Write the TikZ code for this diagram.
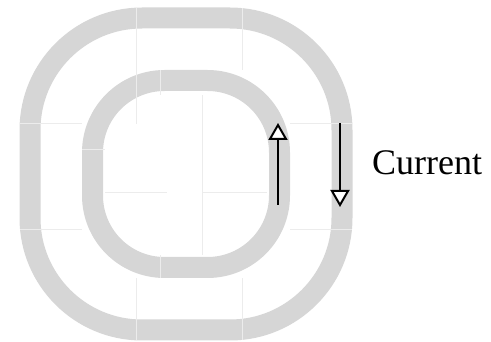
\documentclass[tikz,border=0pt]{standalone}
\usepackage{fontspec}
\setmainfont{Liberation Serif}
\usetikzlibrary{arrows.meta}
\definecolor{grisAnillo}{HTML}{D6D6D6}
\definecolor{grisJunta}{HTML}{ECECEC}

\begin{document}
\begin{tikzpicture}[x=1pt,y=-1pt,>={Triangle[length=17pt,width=19pt,fill=white,line width=2pt]},
                    anillo/.style={grisAnillo},
                    junta/.style={grisJunta,line width=1pt},
                    corriente/.style={->,line width=2.6pt,black}]
  \useasboundingbox (0,0) rectangle (491,342);
  % anillos
  \draw[anillo,line width=21pt,rounded corners=112pt] (30,18) rectangle (342,330);
  \draw[anillo,line width=21pt,rounded corners=72pt] (92.5,80.5) rectangle (279.5,267.5);
  % juntas
  \draw[junta] (136,8) -- (136,124);
  \draw[junta] (136,278) -- (136,340);
  \draw[junta] (242,8) -- (242,70);
  \draw[junta] (242,278) -- (242,340);
  \draw[junta] (20,124) -- (82,124);
  \draw[junta] (290,124) -- (352,124);
  \draw[junta] (20,230) -- (82,230);
  \draw[junta] (290,230) -- (352,230);
  \draw[junta] (160,70) -- (160,95);
  \draw[junta] (160,255) -- (160,278);
  \draw[junta] (202,95) -- (202,255);
  \draw[junta] (82,150) -- (105,150);
  \draw[junta] (105,193) -- (167,193);
  \draw[junta] (202,193) -- (267,193);
  % flechas
  \coordinate (subeA) at (278,205);
  \coordinate (subeB) at (278,123);
  \coordinate (bajaA) at (340,123);
  \coordinate (bajaB) at (340,207);
  \draw[corriente] (subeA) -- (subeB);
  \draw[corriente] (bajaA) -- (bajaB);
  \node[anchor=base west,inner sep=0pt,font=\fontsize{36}{40}\selectfont] (rotulo)
    at (372,175) {Current};
\end{tikzpicture}
\end{document}
